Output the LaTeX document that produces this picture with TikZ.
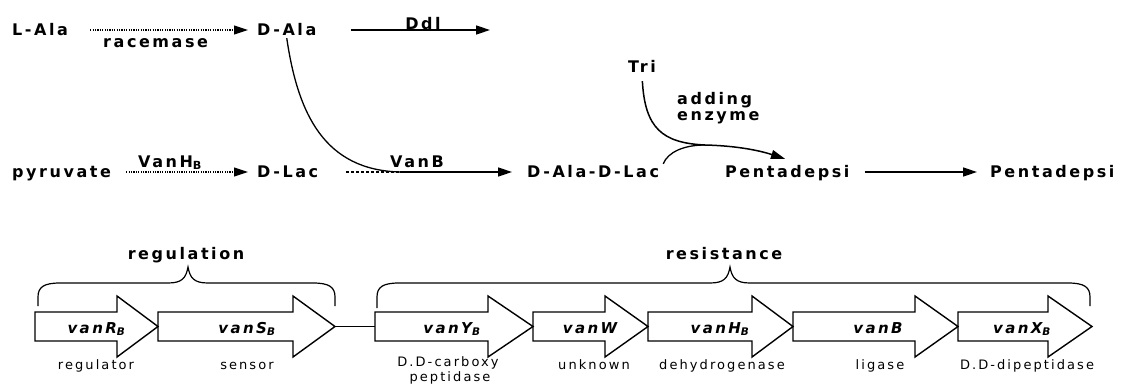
\documentclass[tikz,border=0pt]{standalone}
\usepackage{fontspec}
\setmainfont{DejaVu Sans}[BoldFont={DejaVu Sans Bold}, ItalicFont={DejaVu Sans Oblique}, BoldItalicFont={DejaVu Sans Bold Oblique}, LetterSpace=16]
\usetikzlibrary{arrows.meta}
\begin{document}
\begin{tikzpicture}[x=1pt,y=-1pt,
  lab/.style={font=\fontsize{16}{18}\selectfont\bfseries, inner sep=0pt, text height=13pt, text depth=3pt, anchor=west},
  genelab/.style={font=\fontsize{15}{17}\selectfont\bfseries\itshape, inner sep=0pt, anchor=base},
  sublab/.style={font=\fontsize{13}{15}\selectfont, inner sep=0pt, anchor=base},
  tip/.style={-{Triangle[length=14pt,width=9pt]}},
  solarr/.style={tip, line width=1.5pt},
  dotarr/.style={tip, line width=1.1pt, dash pattern=on 1.2pt off 1.2pt},
  curve/.style={line width=1.3pt},
  gene/.style={line width=1.4pt, line join=miter},
  bracestyle/.style={line width=1.2pt}]
\useasboundingbox (0,0) rectangle (1121,386);

% ---- metabolic pathway ----
\node[lab] (lala) at (12,30) {L-Ala};
\node[lab] (race) at (103,42) {racemase};
\node[lab] (dala) at (257,30) {D-Ala};
\coordinate (ddlend) at (490,30);
\node[lab, anchor=base] (ddl) at (423,29) {Ddl};
\node[lab] (pyr) at (12,172) {pyruvate};
\node[lab] (vanh) at (138,162) {VanH\textsubscript{B}};
\node[lab] (dlac) at (257,172) {D-Lac};
\node[lab] (vanbl) at (390,162) {VanB};
\node[lab] (dadl) at (527,172) {D-Ala-D-Lac};
\node[lab] (tri) at (628,67) {Tri};
\node[font=\fontsize{16}{16}\selectfont\bfseries, inner sep=0pt, align=left, anchor=north west] (add) at (677,92) {adding\\enzyme};
\node[lab] (pent1) at (725,172) {Pentadepsi};
\node[lab] (pent2) at (990,172) {Pentadepsi};

\draw[dotarr, shorten <=22pt, shorten >=9pt] (lala.east) -- (dala.west);
\draw[solarr, shorten <=34pt] (dala.east) -- (ddlend);
\draw[dotarr, shorten <=15pt, shorten >=9pt] (pyr.east) -- (dlac.west);
\coordinate (m1) at (400,172);
\draw[line width=1.2pt, dash pattern=on 3pt off 2pt, shorten <=28pt] (dlac.east) -- (m1);
\draw[solarr, shorten >=15pt] (m1) -- (dadl.west);
\draw[curve] (dala.south) .. controls (298,115) and (325,170) .. (m1);
\coordinate (j) at (705,145);
\draw[curve] ([xshift=4pt]dadl.north east) .. controls (668,152) and (684,145) .. (j);
\draw[solarr, shorten <=6pt] (tri.south) .. controls (645,128) and (662,143) .. (j)
   .. controls (745,146) and (767,153) .. ([shift={(60pt,5pt)}]pent1.north west);
\draw[solarr, shorten <=15pt, shorten >=13pt] (pent1.east) -- (pent2.west);

% ---- gene cluster ----
\foreach \l/\b/\t in {35/117/158, 158/293/335, 375/488/533, 533/605/648, 648/752/793, 793/915/958, 958/1048/1092}
  \draw[gene] (\l,312) -- (\b,312) -- (\b,296) -- (\t,326.5) -- (\b,357) -- (\b,341) -- (\l,341) -- cycle;
\coordinate (stip) at (335,326.5);
\coordinate (yleft) at (375,326.5);
\draw[gene] (stip) -- (yleft);

\node[genelab] (gR) at (96.5,333) {vanR\textsubscript{B}};
\node[genelab] (gS) at (247,333) {vanS\textsubscript{B}};
\node[genelab] (gY) at (452,333) {vanY\textsubscript{B}};
\node[genelab] (gW) at (590,333) {vanW};
\node[genelab] (gH) at (720,333) {vanH\textsubscript{B}};
\node[genelab] (gB) at (878,333) {vanB};
\node[genelab] (gX) at (1022,333) {vanX\textsubscript{B}};

\node[sublab] (sR) at (96,369) {regulator};
\node[sublab] (sS) at (247,369) {sensor};
\node[sublab] (sY1) at (448,366) {D.D-carboxy};
\node[sublab] (sY2) at (450,381) {peptidase};
\node[sublab] (sW) at (594,369) {unknown};
\node[sublab] (sH) at (722,369) {dehydrogenase};
\node[sublab] (sB) at (880,369) {ligase};
\node[sublab] (sX) at (1027,369) {D.D-dipeptidase};

% ---- braces ----
\draw[bracestyle] (38,306) -- (38,297) .. controls (38,287) and (44,283) .. (60,283) -- (168,283)
  .. controls (182,283) and (186,278) .. (188,267) .. controls (190,278) and (194,283) .. (208,283)
  -- (313,283) .. controls (329,283) and (335,287) .. (335,297) -- (335,306);
\node[lab, anchor=base] (reg) at (186,259) {regulation};
\draw[bracestyle] (377,308) -- (377,297) .. controls (377,287) and (383,283) .. (399,283) -- (710,283)
  .. controls (724,283) and (728,278) .. (730,267) .. controls (732,278) and (736,283) .. (750,283)
  -- (1068,283) .. controls (1084,283) and (1090,287) .. (1090,297) -- (1090,306);
\node[lab, anchor=base] (res) at (724,259) {resistance};
\end{tikzpicture}
\end{document}
